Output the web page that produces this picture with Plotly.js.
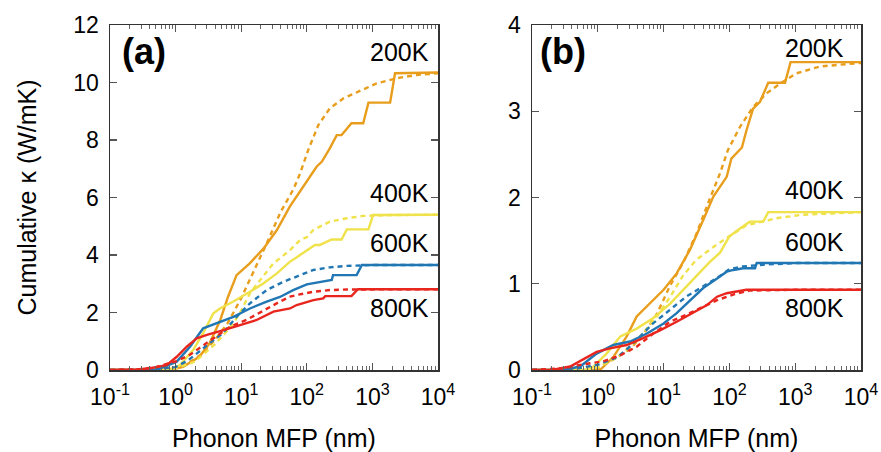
<!DOCTYPE html>
<html>
<head>
<meta charset="utf-8">
<script src="https://cdn.plot.ly/plotly-3.0.1.min.js"></script>
<style>html,body{margin:0;padding:0;background:#fff;}#chart{width:881px;height:452px;}</style>
</head>
<body>
<div id="chart"></div>
<script>
// ---- Panel (a) data: MFP (nm) and cumulative kappa (W/mK) ----
const a200sX = [0.1,0.6,1.0,1.3,2.3,3.3,4.8,6.3,8.5,13.5,22,35,55,70,105,112,141,170,224,286,339,479,724,871,1862,2213,10000];
const a200sY = [0,0,0.05,0.11,0.46,0.93,1.74,2.55,3.30,3.71,4.23,4.87,5.68,6.03,6.65,6.72,7.07,7.25,7.71,8.17,8.17,8.58,8.58,9.30,9.30,10.32,10.35];
const a200dX = [0.1,0.5,1.0,1.58,2.5,4,6.3,10,15.8,25,40,63,79,105,150,224,363,610,1160,2344,4732,10000];
const a200dY = [0,0.02,0.05,0.25,0.55,1.05,1.65,2.5,3.45,4.45,5.5,6.3,6.84,7.65,8.52,9.10,9.45,9.68,9.97,10.15,10.26,10.32];

const a400sX = [0.1,0.8,1.17,1.86,2.63,3.76,4.75,7.6,13.6,21.7,35,55.5,66,93,133,158,240,339,407,871,1023,10000];
const a400sY = [0,0,0.17,0.70,1.28,1.97,2.14,2.38,2.72,3.01,3.36,3.77,3.88,4.12,4.35,4.35,4.54,4.54,4.89,4.89,5.39,5.40];
const a400dX = [0.1,0.5,1,2,4,6.3,7.6,9.5,13.6,19.5,31,55.5,79,100,126,224,407,724,2000,10000];
const a400dY = [0,0.02,0.05,0.3,0.9,1.4,1.62,1.97,2.67,3.13,3.71,4.17,4.52,4.62,4.87,5.16,5.28,5.36,5.39,5.40];

const a600sX = [0.1,0.51,1.04,1.66,2.63,4.23,7.6,13.6,24.5,39,62,100,158,240,251,575,692,10000];
const a600sY = [0,0,0.29,0.81,1.45,1.62,1.85,2.14,2.38,2.54,2.78,2.98,3.07,3.13,3.30,3.30,3.65,3.65];
const a600dX = [0.1,0.5,1,1.58,3.3,5.25,8.5,13.6,24.5,44,70,126,224,407,1000,10000];
const a600dY = [0,0.03,0.1,0.35,0.93,1.28,1.85,2.32,2.78,3.07,3.25,3.48,3.57,3.62,3.65,3.65];

const a800sX = [0.1,0.25,0.41,0.73,1.04,1.48,2.1,3.0,5.4,9.5,17.2,31,55.5,70,126,178,191,479,603,10000];
const a800sY = [0,0.02,0.06,0.17,0.46,0.81,1.10,1.22,1.39,1.57,1.74,2.03,2.14,2.26,2.43,2.49,2.57,2.57,2.81,2.81];
const a800dX = [0.1,0.3,0.5,1,1.58,2.1,3.76,6.8,12,24.5,39,55.5,70,126,224,407,10000];
const a800dY = [0,0.03,0.1,0.3,0.5,0.70,1.10,1.51,1.74,2.14,2.38,2.55,2.61,2.72,2.78,2.80,2.81];

// ---- Panel (b) data ----
const b200sX = [0.1,0.8,1.08,1.72,2.75,3.9,6.2,10,15.8,25,40,57,91,107,155,182,229,292,389,700,851,10000];
const b200sY = [0,0,0,0.15,0.39,0.62,0.77,0.93,1.12,1.39,1.74,2.01,2.24,2.45,2.58,2.78,3.03,3.11,3.33,3.33,3.57,3.57];
const b200dX = [0.1,0.5,1,2,3.16,5,7.9,12.6,20,31.6,50,72,95,145,229,372,589,1047,2400,10000];
const b200dY = [0,0,0.02,0.15,0.25,0.42,0.65,0.98,1.25,1.58,1.98,2.28,2.55,2.82,3.05,3.21,3.32,3.44,3.52,3.56];

const b400sX = [0.1,0.76,1.36,2.2,3.9,6.9,12.6,20,31.6,50,72,100,145,204,327,389,10000];
const b400sY = [0,0,0.19,0.39,0.48,0.60,0.77,0.93,1.08,1.25,1.36,1.55,1.64,1.72,1.72,1.83,1.83];
const b400dX = [0.1,0.5,1,2,4,7.9,12.6,20,31.6,63,100,182,316,525,1260,10000];
const b400dY = [0,0,0.03,0.15,0.35,0.62,0.85,1.1,1.28,1.45,1.55,1.68,1.72,1.76,1.80,1.83];

const b600sX = [0.1,0.3,0.54,0.96,1.72,3.1,5.5,10,15.8,25,40,65,91,115,162,245,260,10000];
const b600sY = [0,0,0.04,0.19,0.29,0.33,0.42,0.54,0.66,0.80,0.95,1.06,1.14,1.16,1.18,1.18,1.24,1.24];
const b600dX = [0.1,0.5,1,2,3.16,6.9,12.6,22,40,72,100,158,316,1000,10000];
const b600dY = [0,0.02,0.06,0.15,0.28,0.54,0.70,0.85,0.97,1.09,1.17,1.20,1.22,1.24,1.24];

const b800sX = [0.1,0.2,0.38,0.6,0.96,1.53,2.75,4.9,8.8,15.8,28,45,65,91,182,10000];
const b800sY = [0,0,0.04,0.12,0.21,0.25,0.29,0.37,0.46,0.56,0.66,0.75,0.85,0.89,0.93,0.93];
const b800dX = [0.1,0.3,0.54,1.2,2.2,3.9,6.9,12.6,22,40,65,120,200,1000,10000];
const b800dY = [0,0.02,0.06,0.10,0.17,0.27,0.42,0.56,0.64,0.73,0.81,0.88,0.92,0.93,0.93];

const xTickVals = [0.1,1,10,100,1000,10000];
const xTickText = ['10<sup>-1</sup>','10<sup>0</sup>','10<sup>1</sup>','10<sup>2</sup>','10<sup>3</sup>','10<sup>4</sup>'];
const tempLabels = ['200K','400K','600K','800K'];

const C = {o:'#E89E1C', y:'#F0E24A', b:'#2177B4', r:'#E8261E'};
const LW = 2.4;
const DASH = '5px,4px';

function tr(x, y, color, dashed, xa, ya) {
  return {x:x, y:y, type:'scatter', mode:'lines', xaxis:xa, yaxis:ya, hoverinfo:'skip',
    line:{color:color, width:LW, dash: dashed ? DASH : 'solid'}, showlegend:false};
}

const data = [
  tr(a200dX,a200dY,C.o,true,'x','y'), tr(a200sX,a200sY,C.o,false,'x','y'),
  tr(a400dX,a400dY,C.y,true,'x','y'), tr(a400sX,a400sY,C.y,false,'x','y'),
  tr(a600dX,a600dY,C.b,true,'x','y'), tr(a600sX,a600sY,C.b,false,'x','y'),
  tr(a800dX,a800dY,C.r,true,'x','y'), tr(a800sX,a800sY,C.r,false,'x','y'),
  tr(b200dX,b200dY,C.o,true,'x2','y2'), tr(b200sX,b200sY,C.o,false,'x2','y2'),
  tr(b400dX,b400dY,C.y,true,'x2','y2'), tr(b400sX,b400sY,C.y,false,'x2','y2'),
  tr(b600dX,b600dY,C.b,true,'x2','y2'), tr(b600sX,b600sY,C.b,false,'x2','y2'),
  tr(b800dX,b800dY,C.r,true,'x2','y2'), tr(b800sX,b800sY,C.r,false,'x2','y2')
];

const W = 881, H = 452;
const FONT = 'Liberation Sans, Arial, sans-serif';
const axisCommon = {
  showline:true, linecolor:'#333', linewidth:1.5, mirror:'ticks',
  ticks:'inside', ticklen:7, tickcolor:'#555', tickwidth:1.2,
  showgrid:false, zeroline:false,
  tickfont:{family:FONT, size:23, color:'#000'}
};
function xAxis(domain) {
  return Object.assign({}, axisCommon, {
    type:'log', domain:domain, range:[-1,4], tickvals:xTickVals, ticktext:xTickText,
    ticklabelstandoff:6,
    minor:{ticks:'inside', ticklen:4, tickcolor:'#666', tickwidth:1, dtick:'D1', showgrid:false},
    title:{text:'Phonon MFP (nm)', font:{family:FONT, size:25, color:'#000'}, standoff:21}
  });
}
const yDom = [(H-370)/H, (H-25)/H];

const ann = [];
function lab(px, py, text, size, bold, anchor) {
  ann.push({xref:'paper', yref:'paper', x:px/W, y:1-py/H, text: bold ? '<b>'+text+'</b>' : text,
    showarrow:false, xanchor:anchor, yanchor:'middle', font:{family:FONT, size:size, color:'#000'}});
}
lab(144, 52, '(a)', 36, true, 'center');
lab(563, 52, '(b)', 36, true, 'center');
const aLabY = [52, 193, 243, 308];
const bLabY = [48, 190, 242, 308];
tempLabels.forEach((t,i) => { lab(431, aLabY[i], t, 25, false, 'right'); lab(846, bLabY[i], t, 25, false, 'right'); });

const layout = {
  width:W, height:H, margin:{l:0,r:0,t:0,b:0}, paper_bgcolor:'#fff', plot_bgcolor:'#fff',
  showlegend:false,
  xaxis: Object.assign(xAxis([110/W, 438/W]), {anchor:'y'}),
  xaxis2: Object.assign(xAxis([532/W, 861/W]), {anchor:'y2'}),
  yaxis: Object.assign({}, axisCommon, {domain:yDom, range:[0,12], dtick:2, anchor:'x',
    ticklabelstandoff:5,
    title:{text:'Cumulative κ (W/mK)', font:{family:FONT, size:25, color:'#000'}, standoff:29}}),
  yaxis2: Object.assign({}, axisCommon, {domain:yDom, range:[0,4], dtick:1, anchor:'x2', ticklabelstandoff:5}),
  annotations: ann
};

Plotly.newPlot('chart', data, layout, {staticPlot:true, displayModeBar:false});
</script>
</body>
</html>
